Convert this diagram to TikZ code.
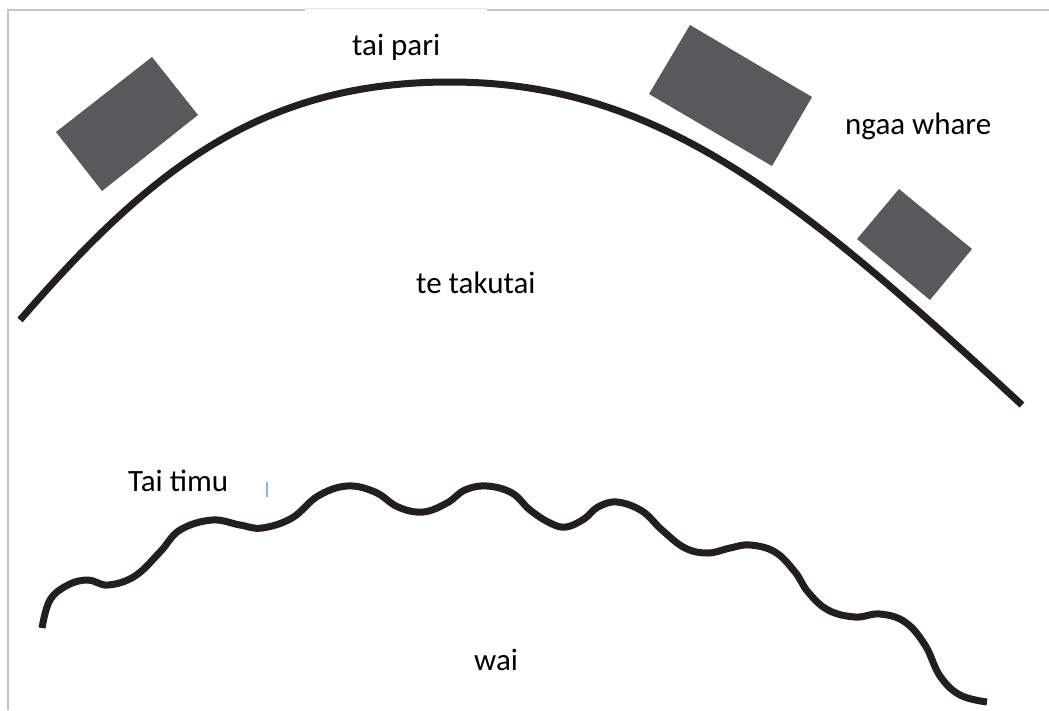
\documentclass[tikz,border=0pt]{standalone}
\usepackage{fontspec}
\setmainfont{Carlito}
\begin{document}
\begin{tikzpicture}[x=1pt,y=-1pt,
  house/.style={fill=housegray,draw=none},
  shore/.style={draw=linedark,line width=7pt,line cap=butt,line join=round},
  frameline/.style={draw=framegray,line width=2pt},
  lbl/.style={inner sep=0pt,anchor=base west,font=\fontsize{31}{37}\selectfont,text=black}]
\definecolor{housegray}{HTML}{58595B}
\definecolor{linedark}{HTML}{231F20}
\definecolor{framegray}{HTML}{C4C4C4}
\definecolor{tickblue}{HTML}{5B8FD9}
\useasboundingbox[fill=white] (0,0) rectangle (1049,710);
% frame
\draw[draw=framegray!45,line width=1pt] (305,8) -- (487,8);
\draw[frameline] (8,710) -- (8,10) -- (305,10);
\draw[frameline] (487,10) -- (1049,10);
% houses
\fill[house] (152,57) -- (198,115) -- (102,191) -- (56,132) -- cycle;
\fill[house] (690,25) -- (812,97) -- (772,166) -- (649,94) -- cycle;
\fill[house] (899,189) -- (972,249) -- (930,300) -- (857,239) -- cycle;
% shore line (arch)
\coordinate (a0) at (20,320);
\coordinate (atop) at (450,82);
\coordinate (a1) at (1022,405);
\draw[shore] (a0) .. controls (150,170) and (260,82) .. (atop)
                  .. controls (660,82) and (800,200) .. (a1);
% wavy water line
\draw[shore] plot[smooth,tension=0.65] coordinates {
(42,628) (50,600) (68,585) (88,580) (108,585) (135,576) (160,552) (180,530)
(212,520) (240,525) (262,528) (292,518) (318,496) (347,486) (375,492)
(398,507) (423,512) (447,503) (465,490) (487,486) (512,493) (530,510)
(550,523) (566,527) (584,519) (598,507) (617,502) (642,511) (662,530)
(685,548) (708,553) (730,548) (750,545) (775,552) (795,572) (808,592)
(828,610) (855,617) (880,614) (905,622) (925,645) (940,676) (960,695) (987,702)};
% stray cursor tick
\draw[draw=tickblue!70,line width=1.5pt] (267,482) -- (267,497);
% labels
\node[lbl] (taipari) at (352,55) {tai pari};
\node[lbl] (whare) at (845,134) {ngaa whare};
\node[lbl] (takutai) at (416,293) {te takutai};
\node[lbl] (taitimu) at (128,491) {Tai timu};
\node[lbl] (wai) at (474,670) {wai};
\end{tikzpicture}
\end{document}
